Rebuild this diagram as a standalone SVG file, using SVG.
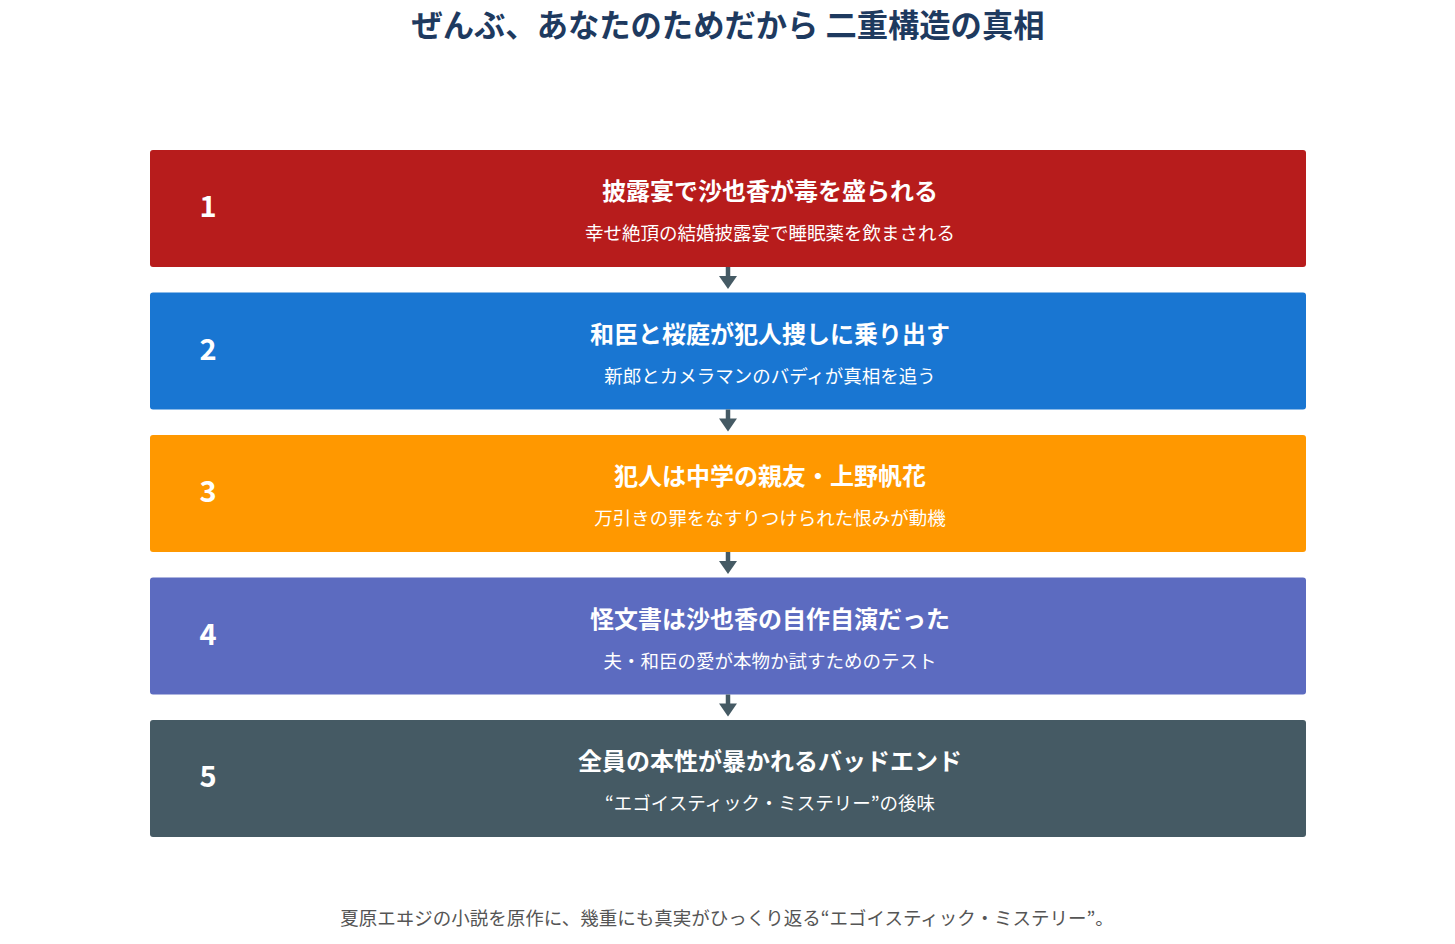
<svg xmlns="http://www.w3.org/2000/svg" width="1455" height="944" viewBox="0 0 1455 944">
<style>
text{font-family:"Noto Sans CJK JP","Noto Sans",sans-serif}
.title{font-size:31.3px;font-weight:700;fill:#1E3A5F;text-anchor:middle}
.num{font-size:29px;font-weight:700;fill:#fff;text-anchor:middle}
.head{font-size:24px;font-weight:700;fill:#fff;text-anchor:middle}
.sub{font-size:18.5px;fill:#fff;text-anchor:middle}
.foot{font-size:18.5px;fill:#555;text-anchor:middle}
.conn line{stroke:#455A64;stroke-width:4.5}
.conn path{fill:#455A64}
</style>
<rect width="1455" height="944" fill="#fff"/>
<text class="title" x="728" y="37">ぜんぶ、あなたのためだから 二重構造の真相</text>
<g id="node1">
<rect x="150" y="150" width="1156" height="117" rx="3" fill="#B71C1C"/>
<text class="num" x="208" y="217">1</text>
<text class="head" x="770" y="200">披露宴で沙也香が毒を盛られる</text>
<text class="sub" x="770" y="240">幸せ絶頂の結婚披露宴で睡眠薬を飲まされる</text>
</g>
<g id="node2">
<rect x="150" y="292.5" width="1156" height="117" rx="3" fill="#1976D2"/>
<text class="num" x="208" y="359.5">2</text>
<text class="head" x="770" y="342.5">和臣と桜庭が犯人捜しに乗り出す</text>
<text class="sub" x="770" y="382.5">新郎とカメラマンのバディが真相を追う</text>
</g>
<g id="node3">
<rect x="150" y="435" width="1156" height="117" rx="3" fill="#FF9800"/>
<text class="num" x="208" y="502">3</text>
<text class="head" x="770" y="485">犯人は中学の親友・上野帆花</text>
<text class="sub" x="770" y="525">万引きの罪をなすりつけられた恨みが動機</text>
</g>
<g id="node4">
<rect x="150" y="577.5" width="1156" height="117" rx="3" fill="#5C6BC0"/>
<text class="num" x="208" y="644.5">4</text>
<text class="head" x="770" y="627.5">怪文書は沙也香の自作自演だった</text>
<text class="sub" x="770" y="667.5">夫・和臣の愛が本物か試すためのテスト</text>
</g>
<g id="node5">
<rect x="150" y="720" width="1156" height="117" rx="3" fill="#455A64"/>
<text class="num" x="208" y="787">5</text>
<text class="head" x="770" y="770">全員の本性が暴かれるバッドエンド</text>
<text class="sub" x="770" y="810">“エゴイスティック・ミステリー”の後味</text>
</g>
<g id="connectors" class="conn">
<line x1="728" y1="267" x2="728" y2="278"/><path d="M719,276 L737,276 L728,289 Z"/>
<line x1="728" y1="409.5" x2="728" y2="420.5"/><path d="M719,418.5 L737,418.5 L728,431.5 Z"/>
<line x1="728" y1="552" x2="728" y2="563"/><path d="M719,561 L737,561 L728,574 Z"/>
<line x1="728" y1="694.5" x2="728" y2="705.5"/><path d="M719,703.5 L737,703.5 L728,716.5 Z"/>
</g>
<text class="foot" x="727" y="925">夏原エヰジの小説を原作に、幾重にも真実がひっくり返る“エゴイスティック・ミステリー”。</text>
</svg>
